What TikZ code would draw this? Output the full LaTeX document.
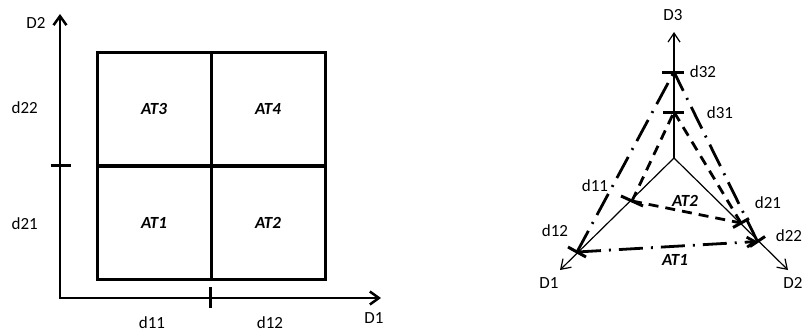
\documentclass[tikz,border=0pt]{standalone}
\usepackage{fontspec}
\setmainfont{Carlito}
\usetikzlibrary{arrows.meta}
\begin{document}
\begin{tikzpicture}[x=1pt,y=-1pt,
  lbl/.style={font=\fontsize{17}{20}\selectfont, inner sep=0pt},
  atlbl/.style={inner sep=0pt, font=\fontsize{17}{20}\selectfont\bfseries\itshape},
  cell/.style={draw, line width=3pt, minimum width=114pt, minimum height=114pt,
    inner sep=0pt, atlbl},
  thickaxis/.style={line width=2.5pt},
  bigbarb/.tip={Straight Barb[length=9pt,width=13pt]},
  thinaxis/.style={line width=1.2pt, -{Straight Barb[length=9pt,width=12pt]}},
  tickmark/.style={line width=3pt},
  innertri/.style={line width=2.8pt, dash pattern=on 10pt off 7pt},
  outertri/.style={line width=2.8pt, dash pattern=on 24pt off 8pt on 2pt off 8pt},
]
\useasboundingbox (0,0) rectangle (804,335);

% ---------- two-dimensional grid ----------
\node[cell] (at3) at (154,109) {AT3};
\node[cell] (at4) at (268,109) {AT4};
\node[cell] (at1) at (154,222.5) {AT1};
\node[cell] (at2) at (268,222.5) {AT2};

\coordinate (O)    at (60,298);
\coordinate (xend) at (381,298);
\coordinate (yend) at (60,14);
\draw[thickaxis, bigbarb-bigbarb] (yend) -- (O) -- (xend);

\coordinate (ty1) at (50.5,165.7);
\coordinate (ty2) at (71,165.7);
\coordinate (tx1) at (210.7,287);
\coordinate (tx2) at (210.7,308);
\draw[thickaxis] (ty1) -- (ty2);
\draw[thickaxis] (tx1) -- (tx2);

\node[lbl] (lD2)  at (36,23)    {D2};
\node[lbl] (lD1)  at (374,318)  {D1};
\node[lbl] (ld22) at (24.7,107.5) {d22};
\node[lbl] (ld21) at (24.7,224)   {d21};
\node[lbl] (ld11) at (152,323)  {d11};
\node[lbl] (ld12) at (270,323)  {d12};

% ---------- three-axis diagram ----------
\coordinate (C)   at (674,158);
\coordinate (D3t) at (674,32);
\coordinate (D1t) at (560,270);
\coordinate (D2t) at (788,270);
\draw[thinaxis] (C) -- (D3t);
\draw[thinaxis] (C) -- (D1t);
\draw[thinaxis] (C) -- (D2t);

% level marks on the axes
\coordinate (d31) at (674,112);
\coordinate (d32) at (674,72);
\coordinate (d11) at (632,201);
\coordinate (d12) at (577,252);
\coordinate (d21) at (741,223);
\coordinate (d22) at (757.5,241.5);

\coordinate (d31a) at (663,112);   \coordinate (d31b) at (684,112);
\coordinate (d32a) at (662,72);    \coordinate (d32b) at (684,72);
\coordinate (d11a) at (621,196);   \coordinate (d11b) at (643,206);
\coordinate (d12a) at (568,247);   \coordinate (d12b) at (586,257);
\coordinate (d21a) at (733,227.5); \coordinate (d21b) at (749,218.5);
\coordinate (d22a) at (750,246.5); \coordinate (d22b) at (765,236.5);
\foreach \m in {d31,d32,d11,d12,d21,d22}
  \draw[tickmark] (\m a) -- (\m b);

% AT2 region (dashed)
\draw[innertri] (d11) -- (d21);
\draw[innertri] (d11) -- (d31);
\draw[innertri] (d21) -- (d31);

% AT1 region (dash-dot)
\draw[outertri, -{Straight Barb[length=8pt,width=10pt]}] (d12) -- (d22);
\draw[outertri] (d12) -- (d32);
\draw[outertri] (d22) -- (d32);

\node[lbl] (lD3)  at (673,15)  {D3};
\node[lbl] (rD1)  at (549,283) {D1};
\node[lbl] (rD2)  at (793,283) {D2};
\node[lbl] (ld32) at (703,72)  {d32};
\node[lbl] (ld31) at (720,113) {d31};
\node[lbl] (rd11) at (595,186) {d11};
\node[lbl] (rd12) at (555,231) {d12};
\node[lbl] (rd21) at (768,203) {d21};
\node[lbl] (rd22) at (789,236) {d22};
\node[atlbl] (lat2) at (685,201) {AT2};
\node[atlbl] (lat1) at (675,260) {AT1};
\end{tikzpicture}
\end{document}
